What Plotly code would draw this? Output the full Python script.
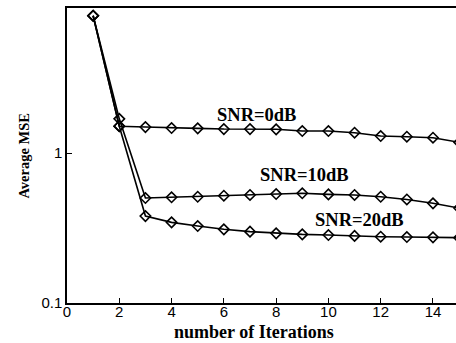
import math
import plotly.graph_objects as go

iterations = list(range(1, 16))
mse_0db = [8.23, 1.51, 1.49, 1.468, 1.461, 1.445, 1.445, 1.439, 1.402, 1.402, 1.366, 1.298, 1.284, 1.265, 1.178]
mse_10db = [8.23, 1.69, 0.501, 0.507, 0.511, 0.519, 0.525, 0.533, 0.539, 0.530, 0.525, 0.511, 0.490, 0.462, 0.430]
mse_20db = [8.23, 1.51, 0.380, 0.345, 0.326, 0.310, 0.299, 0.2915, 0.287, 0.284, 0.280, 0.2767, 0.2754, 0.2742, 0.2725]
series_names = ["SNR=0dB", "SNR=10dB", "SNR=20dB"]
label_x = [7.26, 9.1, 11.2]
label_y = [1.79, 0.713, 0.357]
x_ticks = [0, 2, 4, 6, 8, 10, 12, 14]
y_ticks = [0.1, 1]

fig = go.Figure()
for name, vals in zip(series_names, [mse_0db, mse_10db, mse_20db]):
    fig.add_trace(go.Scatter(
        x=iterations, y=vals, mode="lines+markers", name=name,
        line=dict(color="black", width=1.6),
        marker=dict(symbol="diamond-open", size=8, color="black", line=dict(width=1.6)),
    ))

for name, lx, ly in zip(series_names, label_x, label_y):
    fig.add_annotation(x=lx, y=math.log10(ly), xref="x", yref="y",
                       text="<b>" + name + "</b>", showarrow=False,
                       font=dict(family="Liberation Serif", size=18.5, color="black"),
                       xanchor="center", yanchor="middle")

fig.add_annotation(x=0.481, y=-0.097, xref="paper", yref="paper",
                   text="<b>number of Iterations</b>", showarrow=False,
                   font=dict(family="Liberation Serif", size=18, color="black"),
                   xanchor="center", yanchor="middle")

fig.add_annotation(x=-0.113, y=0.5, xref="paper", yref="paper",
                   text="<b>Average MSE</b>", showarrow=False, textangle=-90,
                   font=dict(family="Liberation Serif", size=14.5, color="black"),
                   xanchor="center", yanchor="middle")

fig.update_layout(
    width=456, height=343,
    margin=dict(l=67, r=0, t=8, b=40, autoexpand=False),
    paper_bgcolor="white", plot_bgcolor="white",
    showlegend=False,
    font=dict(family="Liberation Sans", color="black"),
)
fig.update_xaxes(
    range=[0, 14.88], tickvals=x_ticks, ticktext=[str(v) for v in x_ticks],
    ticks="inside", ticklen=5, tickwidth=1.2, tickcolor="black",
    showline=True, linecolor="black", linewidth=1.5, mirror=True,
    showgrid=False, zeroline=False, automargin=False,
    ticklabelstandoff=-6,
    tickfont=dict(family="Liberation Sans", size=15, color="black"),
)
fig.update_yaxes(
    type="log", range=[-1, 0.967], tickvals=y_ticks, ticktext=["0.1", "1"],
    ticks="inside", ticklen=5, tickwidth=1.2, tickcolor="black",
    showline=True, linecolor="black", linewidth=1.5, mirror=False,
    showgrid=False, zeroline=False, automargin=False,
    tickfont=dict(family="Liberation Sans", size=15, color="black"),
)

fig.write_html("out.html", config={"displayModeBar": False},
               post_script="document.body.style.margin='0';document.body.style.overflow='hidden';")
